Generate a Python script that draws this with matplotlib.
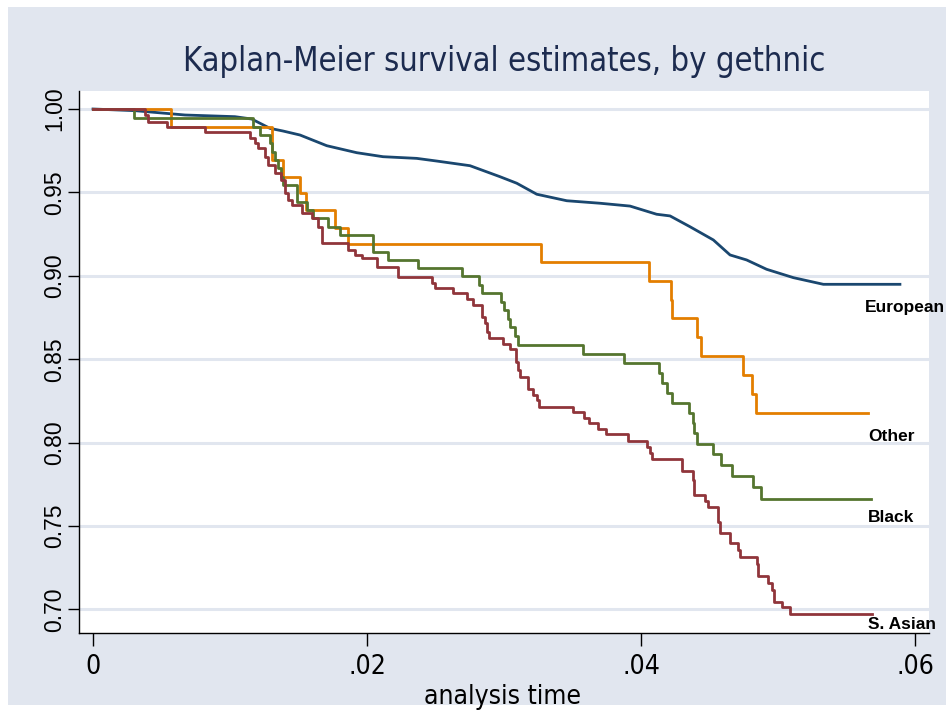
import matplotlib
matplotlib.use("Agg")
import matplotlib.pyplot as plt
from matplotlib.patches import Rectangle

# ---------------- data ----------------
euro_t = [0, 0.00307, 0.00672, 0.01036, 0.01158, 0.01292, 0.01387, 0.01511, 0.01706,
          0.01925, 0.02117, 0.02363, 0.02509, 0.02752, 0.02971, 0.03093, 0.03239,
          0.03458, 0.03701, 0.03920, 0.04114, 0.04212, 0.04358, 0.04528, 0.04650,
          0.04771, 0.04917, 0.05112, 0.05331, 0.05890]
euro_s = [1.0, 0.9990, 0.9964, 0.9954, 0.9940, 0.9884, 0.9868, 0.9844, 0.9780,
          0.9738, 0.9714, 0.9704, 0.9688, 0.9660, 0.9594, 0.9555, 0.9489,
          0.9450, 0.9435, 0.9418, 0.9369, 0.9359, 0.9294, 0.9215, 0.9125,
          0.9095, 0.9039, 0.8989, 0.8949, 0.8949]

other_t = [0, 0.00569, 0.01304, 0.01385, 0.01511, 0.01553, 0.01766, 0.01864, 0.03268,
           0.04061, 0.04217, 0.04226, 0.04411, 0.04438, 0.04747, 0.04812, 0.04839, 0.05659]
other_s = [1.0, 0.9894, 0.9694, 0.9594, 0.9495, 0.9394, 0.9285, 0.9189, 0.9081,
           0.8969, 0.8855, 0.8745, 0.8635, 0.8521, 0.8405, 0.8290, 0.8176, 0.8176]

black_t = [0, 0.003015, 0.011679, 0.012212, 0.012920, 0.013102, 0.013285, 0.013504,
           0.013723, 0.013891, 0.014869, 0.015599, 0.016080, 0.017175, 0.018029,
           0.020460, 0.021555, 0.023701, 0.026957, 0.028175, 0.028372, 0.029759,
           0.030000, 0.030314, 0.030438, 0.030803, 0.031044, 0.035788, 0.038781,
           0.041314, 0.041533, 0.041898, 0.042263, 0.043526, 0.043818, 0.043905,
           0.044124, 0.045278, 0.045818, 0.046620, 0.048197, 0.048737, 0.056788]
black_s = [1.0, 0.9944, 0.9894, 0.9844, 0.9794, 0.9744, 0.9694, 0.9644, 0.9594, 0.9544,
           0.9444, 0.9394, 0.9345, 0.9294, 0.9245, 0.9145, 0.9095, 0.9045, 0.8999, 0.8945,
           0.8895, 0.8845, 0.8795, 0.8744, 0.8691, 0.8639, 0.8585, 0.8529, 0.8475, 0.8416,
           0.8356, 0.8296, 0.8239, 0.8176, 0.8116, 0.8056, 0.7992, 0.7930, 0.7866, 0.7800,
           0.7731, 0.7662, 0.7662]

sasian_t = [0, 0.003796, 0.004037, 0.005380, 0.008175, 0.011460, 0.011825, 0.012066,
            0.012555, 0.012796, 0.013285, 0.013723, 0.014015, 0.014256, 0.014504,
            0.015234, 0.015964, 0.016445, 0.016694, 0.018635, 0.019124, 0.019613,
            0.020708, 0.022285, 0.024723, 0.024964, 0.026256, 0.027278, 0.027716,
            0.028416, 0.028613, 0.028781, 0.028927, 0.029949, 0.030438, 0.030854,
            0.031000, 0.031168, 0.031774, 0.032139, 0.032387, 0.032577, 0.035015,
            0.035861, 0.036226, 0.036883, 0.037445, 0.039015, 0.040402, 0.040693,
            0.040839, 0.042971, 0.043774, 0.043869, 0.044672, 0.044912, 0.045643,
            0.045789, 0.046496, 0.047102, 0.047226, 0.048445, 0.048562, 0.049292,
            0.049540, 0.049722, 0.050270, 0.050876, 0.056839]
sasian_s = [1.0, 0.9964, 0.9924, 0.9894, 0.9864, 0.9824, 0.9794, 0.9764,
            0.9714, 0.9664, 0.9615, 0.9574, 0.9495, 0.9454, 0.9424,
            0.9375, 0.9345, 0.9294, 0.9195, 0.9155, 0.9125, 0.9105,
            0.9055, 0.8995, 0.8955, 0.8925, 0.8895, 0.8861, 0.8825,
            0.8755, 0.8715, 0.8665, 0.8625, 0.8591, 0.8559, 0.8485,
            0.8435, 0.8395, 0.8320, 0.8285, 0.8255, 0.8215, 0.8185,
            0.8146, 0.8116, 0.8080, 0.8050, 0.8011, 0.7976, 0.7936,
            0.7900, 0.7830, 0.7776, 0.7686, 0.7652, 0.7612, 0.7526,
            0.7460, 0.7396, 0.7356, 0.7316, 0.7272, 0.7200, 0.7160,
            0.7116, 0.7047, 0.7013, 0.6973, 0.6973]

group_names = ["European", "Other", "Black", "S. Asian"]
x_ticks = [0, 0.02, 0.04, 0.06]
x_tick_labels = ["0", ".02", ".04", ".06"]
y_ticks = [0.70, 0.75, 0.80, 0.85, 0.90, 0.95, 1.00]
y_tick_labels = ["0.70", "0.75", "0.80", "0.85", "0.90", "0.95", "1.00"]

# ---------------- style ----------------
BG = "#E1E6EF"
NAVY = "#1A476F"
MAROON = "#90353B"
GREEN = "#55752F"
ORANGE = "#E37E00"
TITLE_C = "#1C2B4F"
NARROW = dict(family="DejaVu Sans", stretch="condensed")

W, H = 949, 715
fig = plt.figure(figsize=(W / 100, H / 100), dpi=100, facecolor="white")
bg = Rectangle((8 / W, 1 - 705 / H), (946 - 8) / W, (705 - 7) / H,
               transform=fig.transFigure, facecolor=BG, edgecolor="none", zorder=-10)
fig.add_artist(bg)

ax = fig.add_axes([79 / W, 1 - 633 / H, (929 - 79) / W, (633 - 91) / H])
ax.set_zorder(1)
ax.set_facecolor("white")
ax.set_xlim(-0.001022, 0.061022)
ax.set_ylim(0.68586, 1.01079)

for y in y_ticks:
    ax.axhline(y, color=BG, lw=2.2, zorder=1)

ax.plot(euro_t, euro_s, color=NAVY, lw=2.0, zorder=3, solid_joinstyle="round")
ax.plot(other_t, other_s, color=ORANGE, lw=2.0, drawstyle="steps-post", zorder=3)
ax.plot(black_t, black_s, color=GREEN, lw=2.0, drawstyle="steps-post", zorder=3)
ax.plot(sasian_t, sasian_s, color=MAROON, lw=2.0, drawstyle="steps-post", zorder=3)

for s in ["top", "right"]:
    ax.spines[s].set_visible(False)
for s in ["left", "bottom"]:
    ax.spines[s].set_color("black")
    ax.spines[s].set_linewidth(1.0)

ax.set_xticks(x_ticks)
ax.set_xticklabels(x_tick_labels, fontsize=19, **NARROW)
ax.set_yticks(y_ticks)
ax.set_yticklabels(y_tick_labels, fontfamily="Liberation Sans", fontsize=16.5,
                   rotation=90, va="center")
ax.tick_params(axis="x", direction="out", length=9, width=1, pad=6)
ax.tick_params(axis="y", direction="out", length=8, width=1, pad=1)

# curve labels
label_pos = {"European": (0.05635, 0.8807), "Other": (0.05659, 0.8037),
             "Black": (0.05659, 0.7551), "S. Asian": (0.05659, 0.6907)}
for name in group_names:
    x, y = label_pos[name]
    ax.text(x, y, name, fontfamily="Liberation Sans", fontweight="bold",
            fontsize=12.5, color="black", va="center", ha="left", clip_on=False)

fig.text(504 / W, 1 - 62 / H, "Kaplan-Meier survival estimates, by gethnic",
         fontsize=23.5, color=TITLE_C, ha="center", va="center", **NARROW)
fig.text(503 / W, 1 - 697 / H, "analysis time", fontsize=19,
         color="black", ha="center", va="center", **NARROW)

fig.savefig("out.png", dpi=100, facecolor="white")
